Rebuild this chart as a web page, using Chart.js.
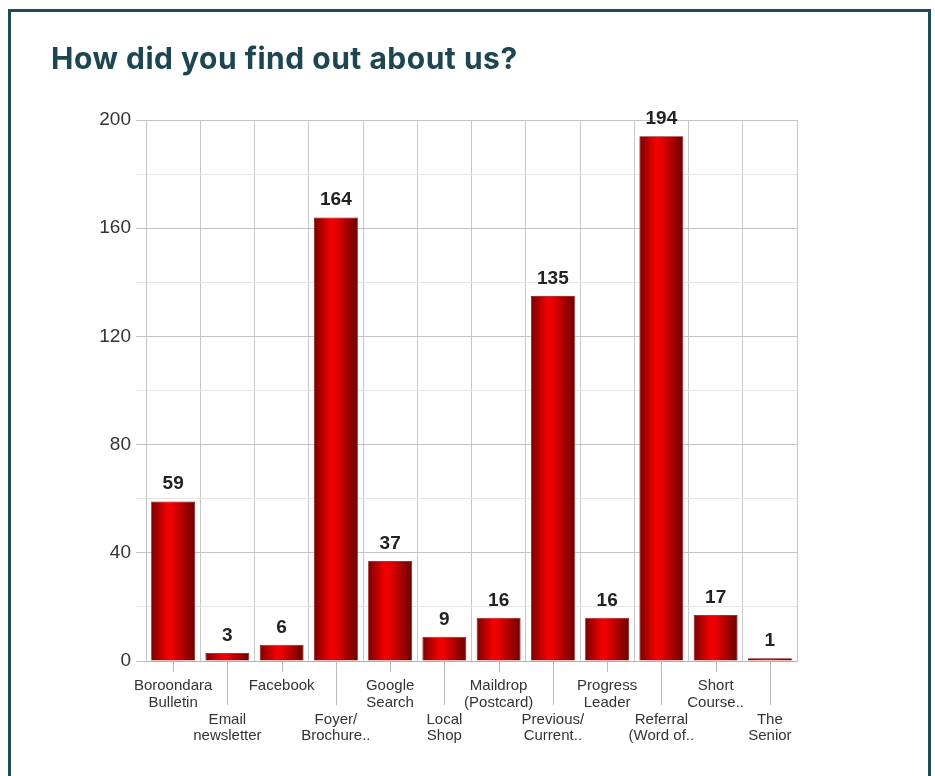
<!DOCTYPE html>
<html>
<head>
<meta charset="utf-8">
<script src="https://cdn.jsdelivr.net/npm/chart.js@4.4.0/dist/chart.umd.min.js"></script>
<style>
  body { margin: 0; background: #fff; overflow: hidden; }
  #frame {
    position: absolute; left: 8px; top: 9px; width: 917px; height: 820px;
    border: 3px solid #1f4b56; pointer-events: none;
  }
  #title {
    position: absolute; left: 51px; top: 43px; margin: 0;
    font-family: Inter, "Open Sans", sans-serif; font-weight: 700; font-size: 30px;
    line-height: 30px; letter-spacing: 0.5px; white-space: nowrap;
    color: #1e4651;
  }
  #chart-wrap { position: absolute; left: 0; top: 0; width: 935px; height: 776px; }
</style>
</head>
<body>
<div id="chart-wrap"><canvas id="found-chart"></canvas></div>
<div id="frame"></div>
<h2 id="title">How did you find out about us?</h2>
<script>
const categories = [
    ["Boroondara", "Bulletin"],
    ["Email", "newsletter"],
    ["Facebook"],
    ["Foyer/", "Brochure.."],
    ["Google", "Search"],
    ["Local", "Shop"],
    ["Maildrop", "(Postcard)"],
    ["Previous/", "Current.."],
    ["Progress", "Leader"],
    ["Referral", "(Word of.."],
    ["Short", "Course.."],
    ["The", "Senior"]
];
const responses = [59, 3, 6, 164, 37, 9, 16, 135, 16, 194, 17, 1];
const yTicks = [0, 40, 80, 120, 160, 200];

const labelFont = "Liberation Sans, Arial, sans-serif";

function barGradient(ctx) {
    const chart = ctx.chart;
    const xs = chart.scales.x;
    if (!chart.chartArea || !xs) return "#d00000";
    const cx = xs.getPixelForValue(ctx.dataIndex);
    const w = xs.width / categories.length * 0.81;
    const g = chart.ctx.createLinearGradient(cx - w / 2, 0, cx + w / 2, 0);
    g.addColorStop(0, "#7a0000");
    g.addColorStop(0.38, "#f40000");
    g.addColorStop(0.5, "#e80000");
    g.addColorStop(1, "#6a0000");
    return g;
}

// number above each bar
const valueLabels = {
    id: "valueLabels",
    afterDatasetsDraw(chart) {
        const ctx = chart.ctx;
        const meta = chart.getDatasetMeta(0);
        ctx.save();
        ctx.font = "bold 19px " + labelFont;
        ctx.fillStyle = "#222";
        ctx.textAlign = "center";
        ctx.textBaseline = "alphabetic";
        meta.data.forEach((bar, i) => {
            ctx.fillText(responses[i], bar.x, bar.y - 12);
        });
        ctx.restore();
    }
};

// staggered tick marks under the categories
const staggerTicks = {
    id: "staggerTicks",
    afterDraw(chart) {
        const ctx = chart.ctx;
        const xs = chart.scales.x;
        const bottom = chart.chartArea.bottom;
        ctx.save();
        ctx.strokeStyle = "#b8b8b8";
        ctx.lineWidth = 1;
        categories.forEach((c, i) => {
            const x = Math.round(xs.getPixelForValue(i)) + 0.5;
            ctx.beginPath();
            ctx.moveTo(x, bottom);
            ctx.lineTo(x, bottom + (i % 2 ? 44 : 11));
            ctx.stroke();
        });
        ctx.restore();
    }
};

const foundCtx = document.getElementById("found-chart").getContext("2d");
const foundChart = new Chart(foundCtx, {
    type: "bar",
    data: {
        labels: categories,
        datasets: [{
            data: responses,
            backgroundColor: barGradient,
            borderColor: "#8a0000",
            borderWidth: 0.8,
            categoryPercentage: 1,
            barPercentage: 0.81
        }]
    },
    options: {
        responsive: true,
        maintainAspectRatio: false,
        animation: false,
        layout: { padding: { top: 120, left: 80, right: 138, bottom: 15 } },
        plugins: {
            legend: { display: false },
            tooltip: { enabled: false }
        },
        scales: {
            x: {
                grid: {
                    offset: true,
                    color: "#c8c8c8",
                    drawTicks: false
                },
                border: { color: "#b0b0b0" },
                ticks: {
                    autoSkip: false,
                    maxRotation: 0,
                    padding: 16,
                    color: "#333",
                    font: { family: labelFont, size: 15, lineHeight: 1.13 },
                    callback: function (v, i) {
                        return i % 2 ? ["", ""].concat(categories[i]) : categories[i];
                    }
                },
                afterFit: function (s) { s.height = 100; }
            },
            y: {
                min: 0,
                max: 200,
                grid: {
                    color: (c) => (yTicks.includes(c.tick.value) ? "#c4c4c4" : "#e6e6e6"),
                    tickColor: (c) => (yTicks.includes(c.tick.value) ? "#c4c4c4" : "#e6e6e6"),
                    tickLength: 10
                },
                border: { color: "#c4c4c4" },
                ticks: {
                    stepSize: 20,
                    padding: 5,
                    color: "#333",
                    font: { family: labelFont, size: 19 },
                    callback: (v) => (yTicks.includes(v) ? v : "")
                },
                afterFit: function (s) { s.width = 66; }
            }
        }
    },
    plugins: [valueLabels, staggerTicks]
});
</script>
</body>
</html>
